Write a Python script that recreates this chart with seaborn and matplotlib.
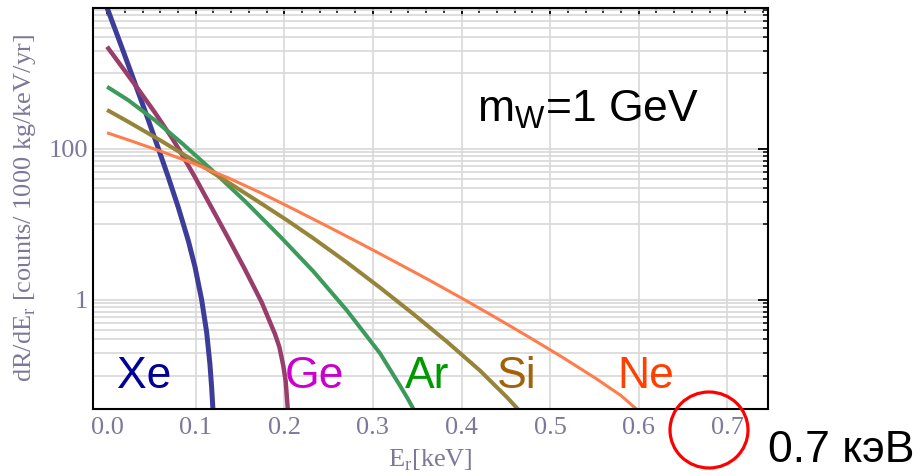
import matplotlib
matplotlib.use("Agg")
import matplotlib.pyplot as plt
from matplotlib.ticker import FixedLocator, FixedFormatter, MultipleLocator, NullFormatter
from matplotlib.patches import Ellipse
import seaborn as sns

# Differential WIMP recoil rate dR/dE [counts / 1000 kg / keV / yr] vs recoil energy [keV], m_W = 1 GeV
xe_energy = [0.0, 0.0164, 0.0315, 0.0465, 0.0578, 0.0691, 0.0804, 0.0917, 0.0992, 0.1067,
             0.1124, 0.1161, 0.1180, 0.1195]
xe_rate = [7413, 2254, 741, 242, 102, 42.3, 16.8, 6.08, 2.75, 1.01,
           0.372, 0.140, 0.0693, 0.0348]

ge_energy = [0.0, 0.0164, 0.0352, 0.0540, 0.0729, 0.0823, 0.0992, 0.1180, 0.1368, 0.1556,
             0.1745, 0.1895, 0.1945, 0.1989, 0.2015, 0.2040]
ge_rate = [2265, 1239, 619, 303, 142, 93.8, 42.3, 16.7, 6.58, 2.54,
           0.931, 0.354, 0.237, 0.134, 0.0851, 0.035]

ar_energy = [0.0, 0.024, 0.054, 0.0842, 0.118, 0.1556, 0.195, 0.2327, 0.2704, 0.308,
             0.3306, 0.339, 0.347]
ar_rate = [668, 442, 240, 120, 53.0, 20.4, 7.0, 2.40, 0.733, 0.197,
           0.0733, 0.0501, 0.0339]

si_energy = [0.0, 0.024, 0.0616, 0.0992, 0.1368, 0.1745, 0.2035, 0.2327, 0.2704, 0.308,
             0.3456, 0.3833, 0.4209, 0.451, 0.464]
si_rate = [329, 229, 127, 68.5, 36.1, 18.8, 11.3, 6.58, 3.16, 1.46,
           0.653, 0.282, 0.116, 0.0519, 0.0355]

ne_energy = [0.0, 0.024, 0.0616, 0.0992, 0.1368, 0.1745, 0.2127, 0.2504, 0.288, 0.3256,
             0.3633, 0.4009, 0.4385, 0.4761, 0.5137, 0.5514, 0.580, 0.5985]
ne_rate = [164, 131.8, 92.5, 63.2, 41.4, 25.9, 15.5, 9.23, 5.45, 3.18,
           1.84, 1.047, 0.586, 0.323, 0.175, 0.0918, 0.0542, 0.035]

targets = ["Xe", "Ge", "Ar", "Si", "Ne"]
energies = [xe_energy, ge_energy, ar_energy, si_energy, ne_energy]
rates = [xe_rate, ge_rate, ar_rate, si_rate, ne_rate]
line_colors = ["#3d3d99", "#993d6b", "#3c9a5a", "#968539", "#ff7c4c"]
line_widths = [3.6, 3.2, 2.9, 2.9, 2.2]
label_colors = ["#000099", "#cc00cc", "#009900", "#a0620a", "#ff4000"]
label_x = [0.011, 0.201, 0.336, 0.440, 0.576]

x_ticks = [0.0, 0.1, 0.2, 0.3, 0.4, 0.5, 0.6, 0.7]
x_tick_labels = ["0.0", "0.1", "0.2", "0.3", "0.4", "0.5", "0.6", "0.7"]
y_ticks = [1, 100]
y_tick_labels = ["1", "100"]
y_minor_ticks = [0.1, 0.2, 0.3, 0.4, 0.5, 0.6, 0.7, 0.8, 0.9,
                 10, 20, 30, 40, 50, 60, 70, 80, 90,
                 1000, 2000, 3000, 4000, 5000, 6000, 7000]

sns.set_style("white")
plt.rcParams["font.family"] = ["Liberation Sans", "DejaVu Sans"]

tick_color = "#7c7899"
serif = ["Liberation Serif", "DejaVu Serif"]

fig = plt.figure(figsize=(9.24, 4.76), dpi=100)
ax = fig.add_axes([93 / 924, 1 - 409 / 476, 675 / 924, 401 / 476])

for name, e, r, c, lw in zip(targets, energies, rates, line_colors, line_widths):
    sns.lineplot(x=e, y=r, ax=ax, color=c, linewidth=lw, sort=False,
                 estimator=None, legend=False, solid_capstyle="butt")

ax.set_yscale("log")
ax.set_xlim(-0.0159, 0.7459)
ax.set_ylim(0.036, 7370)

ax.xaxis.set_major_locator(FixedLocator(x_ticks))
ax.xaxis.set_major_formatter(FixedFormatter(x_tick_labels))
ax.xaxis.set_minor_locator(MultipleLocator(0.02))
ax.yaxis.set_major_locator(FixedLocator(y_ticks))
ax.yaxis.set_major_formatter(FixedFormatter(y_tick_labels))
ax.yaxis.set_minor_locator(FixedLocator(y_minor_ticks))
ax.yaxis.set_minor_formatter(NullFormatter())

ax.tick_params(which="both", direction="in", top=True, right=True, color="black")
ax.tick_params(axis="x", which="major", length=6, width=1.3, pad=6)
ax.tick_params(axis="x", which="minor", length=3.5, width=1.1)
ax.tick_params(axis="y", which="major", length=7, width=1.3, pad=3.5)
ax.tick_params(axis="y", which="minor", length=3.5, width=1.1)
for lab in ax.get_xticklabels() + ax.get_yticklabels():
    lab.set_family(serif)
    lab.set_fontsize(19)
    lab.set_color(tick_color)

ax.xaxis.grid(True, which="major", color="#d8d8d8", linewidth=1.2)
ax.yaxis.grid(True, which="both", color="#d8d8d8", linewidth=1.2)
ax.get_xgridlines()[0].set_visible(False)
ax.set_axisbelow(True)

for sp in ax.spines.values():
    sp.set_color("black")
    sp.set_linewidth(1.5)

ax.set_xlabel(r"E$_\mathregular{r}$[keV]", family=serif, fontsize=19, color=tick_color)
ax.xaxis.set_label_coords(0.5, -0.097)
ax.set_ylabel(r"dR/dE$_\mathregular{r}$ [counts/ 1000 kg/keV/yr]", family=serif,
              fontsize=19, color=tick_color)
ax.yaxis.set_label_coords(-0.081, 0.5)

# target labels near the curve endpoints
for name, lx, lc in zip(targets, label_x, label_colors):
    ax.text(lx, 0.052, name, transform=ax.get_xaxis_transform(), fontsize=32,
            color=lc, ha="left", va="baseline")

fig.text(477 / 924, 1 - 122 / 476, r"m$_\mathregular{W}$=1 GeV", fontsize=32,
         color="black", ha="left", va="baseline")

# highlight the 0.7 keV tick
fig.add_artist(Ellipse((709 / 924, 1 - 430 / 476), width=78 / 924, height=76 / 476,
                       transform=fig.transFigure, fill=False, edgecolor="#ff0000", linewidth=2.3))
fig.text(768 / 924, 1 - 462 / 476, "0.7 кэВ", fontsize=32, color="black",
         ha="left", va="baseline")

fig.savefig("out.png", dpi=100, facecolor="white")
